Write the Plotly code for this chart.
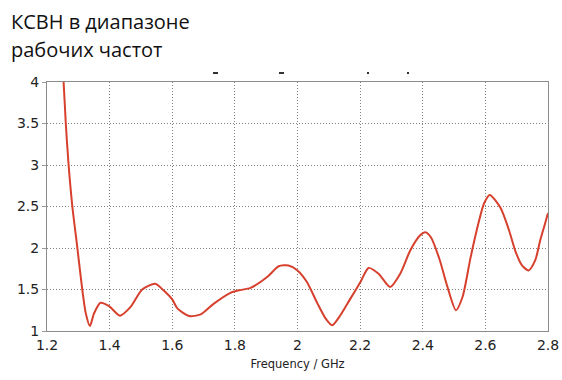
import plotly.graph_objects as go

# Data
freq_ghz = [1.245, 1.253, 1.260, 1.269, 1.281, 1.297, 1.313, 1.324, 1.337, 1.350,
            1.371, 1.398, 1.433, 1.467, 1.504, 1.546, 1.572, 1.600, 1.617, 1.654,
            1.691, 1.733, 1.786, 1.813, 1.850, 1.903, 1.940, 1.971, 2.000, 2.030,
            2.064, 2.090, 2.111, 2.137, 2.169, 2.201, 2.227, 2.259, 2.296, 2.328,
            2.360, 2.391, 2.408, 2.426, 2.453, 2.479, 2.506, 2.527, 2.553, 2.580,
            2.596, 2.614, 2.649, 2.675, 2.696, 2.717, 2.738, 2.759, 2.775, 2.788,
            2.800]
vswr = [4.4, 4.0, 3.5, 3.0, 2.5, 2.0, 1.49, 1.21, 1.06, 1.21,
        1.34, 1.30, 1.185, 1.29, 1.50, 1.57, 1.49, 1.38, 1.27, 1.18,
        1.20, 1.33, 1.46, 1.49, 1.52, 1.65, 1.78, 1.79, 1.73, 1.59,
        1.33, 1.15, 1.07, 1.19, 1.39, 1.59, 1.76, 1.69, 1.53, 1.69,
        1.97, 2.15, 2.19, 2.13, 1.87, 1.53, 1.25, 1.41, 1.89, 2.33,
        2.54, 2.64, 2.48, 2.22, 1.96, 1.79, 1.73, 1.85, 2.09, 2.26,
        2.42]

x_tick_vals = [1.2, 1.4, 1.6, 1.8, 2.0, 2.2, 2.4, 2.6, 2.8]
x_tick_text = ["1.2", "1.4", "1.6", "1.8", "2", "2.2", "2.4", "2.6", "2.8"]
y_tick_vals = [1, 1.5, 2, 2.5, 3, 3.5, 4]
y_tick_text = ["1", "1.5", "2", "2.5", "3", "3.5", "4"]

title_lines = ["КСВН в диапазоне", "рабочих частот"]
x_title = "Frequency / GHz"

W, H = 562, 380
L, R, T, B = 47, 14, 82, 49

fig = go.Figure()
fig.add_trace(go.Scatter(
    x=freq_ghz, y=vswr, mode="lines",
    line=dict(color="#d6402c", width=2, shape="spline", smoothing=0.7),
    hoverinfo="x+y", showlegend=False,
))

axis_common = dict(
    showline=True, mirror=True, linecolor="#8c8c8c", linewidth=1,
    showgrid=True, gridcolor="#808080", gridwidth=1, griddash="1px,2px",
    zeroline=False, automargin=False,
    tickfont=dict(family="DejaVu Sans", size=14, color="#222222"),
)

fig.update_xaxes(
    range=[1.2, 2.8], tickmode="array", tickvals=x_tick_vals, ticktext=x_tick_text,
    ticks="", ticklabelstandoff=1,
    title=dict(text=x_title, standoff=8,
               font=dict(family="DejaVu Sans", size=11.5, color="#222222")),
    **axis_common,
)
fig.update_yaxes(
    range=[1, 4], tickmode="array", tickvals=y_tick_vals, ticktext=y_tick_text,
    ticks="outside", ticklen=4, tickcolor="#9a9a9a",
    **axis_common,
)

annotations = []
for i, line in enumerate(title_lines):
    annotations.append(dict(
        text=line, xref="paper", yref="paper",
        x=-(L - 9) / (W - L - R), xanchor="left",
        y=1 + (T - 21 - i * 29) / (H - T - B), yanchor="middle",
        showarrow=False,
        font=dict(family="Open Sans", size=20, color="#111111"),
    ))

# small remnant marks above the plot
shapes = []
for px in [(213, 218), (279, 284), (367, 369), (407, 409)]:
    shapes.append(dict(
        type="line", xref="paper", yref="paper",
        x0=(px[0] - L) / (W - L - R), x1=(px[1] - L) / (W - L - R),
        y0=1 + (T - 73) / (H - T - B), y1=1 + (T - 73) / (H - T - B),
        line=dict(color="#333333", width=2),
    ))

fig.update_layout(
    width=W, height=H,
    margin=dict(l=L, r=R, t=T, b=B),
    paper_bgcolor="white", plot_bgcolor="white",
    annotations=annotations, shapes=shapes,
    font=dict(family="DejaVu Sans"),
)

fig.write_html("out.html", config={"displayModeBar": False},
               post_script="document.body.style.margin='0';")
